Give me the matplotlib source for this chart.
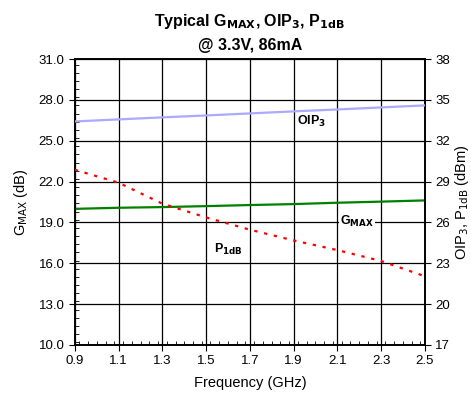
import matplotlib
matplotlib.use('Agg')
import matplotlib.pyplot as plt
from matplotlib.ticker import MultipleLocator
import numpy as np

freq = [0.9, 1.1, 1.3, 1.5, 1.7, 1.9, 2.1, 2.3, 2.5]
gmax = [20.0, 20.08, 20.13, 20.2, 20.28, 20.35, 20.45, 20.53, 20.62]
oip3 = [33.42, 33.57, 33.72, 33.86, 34.01, 34.16, 34.3, 34.45, 34.6]
p1db = [29.87, 28.92, 27.38, 26.37, 25.47, 24.68, 23.97, 23.17, 22.05]


def main():
    plt.rcParams['font.family'] = ['Liberation Sans', 'DejaVu Sans']
    fig = plt.figure(figsize=(4.71, 3.94), dpi=100)
    ax = fig.add_axes([0.159, 0.1244, 0.743, 0.7256])
    ax2 = ax.twinx()

    ax.plot(freq, gmax, color='#008000', lw=1.6, zorder=3)
    ax2.plot(freq, oip3, color='#aaaaff', lw=1.6, zorder=3)
    ax2.plot(freq, p1db, color='#ff0000', lw=1.6, ls=(0, (1.5, 3)), zorder=3)

    ax.set_xlim(0.9, 2.5)
    ax.set_ylim(10, 31)
    ax2.set_ylim(17, 38)
    ax.set_xticks(np.arange(0.9, 2.51, 0.2))
    ax.set_xticklabels([f'{v:.1f}' for v in np.arange(0.9, 2.51, 0.2)])
    ax.set_yticks(np.arange(10, 31.1, 3))
    ax.set_yticklabels([f'{v:.1f}' for v in np.arange(10, 31.1, 3)])
    ax2.set_yticks(np.arange(17, 38.1, 3))
    ax.xaxis.set_minor_locator(MultipleLocator(0.04))
    ax.yaxis.set_minor_locator(MultipleLocator(0.6))
    ax.grid(True, which='major', color='black', lw=0.9)
    ax.set_axisbelow(True)

    ax.tick_params(which='major', direction='out', length=4, labelsize=9.5, color='black')
    ax.tick_params(which='minor', direction='in', length=3)
    ax2.tick_params(which='major', direction='out', length=4, labelsize=9.5)
    for a in (ax, ax2):
        for s in a.spines.values():
            s.set_linewidth(1.2)

    ax.set_xlabel('Frequency (GHz)', fontsize=10.5, labelpad=6)
    ax.set_ylabel('G$_{\\mathrm{MAX}}$ (dB)', fontsize=10.5, labelpad=6)
    ax2.set_ylabel('OIP$_3$, P$_{\\mathrm{1dB}}$ (dBm)', fontsize=10.5, labelpad=2)

    fig.text(0.53, 0.935, 'Typical G$_{\\mathbf{MAX}}$, OIP$_\\mathbf{3}$, P$_{\\mathbf{1dB}}$',
             ha='center', fontsize=11.5, fontweight='bold')
    fig.text(0.53, 0.873, '@ 3.3V, 86mA', ha='center', fontsize=11.5, fontweight='bold')

    ax2.text(1.98, 33.4, 'OIP$_\\mathbf{3}$', ha='center', va='center',
             fontsize=9, fontweight='bold', zorder=4)
    ax.text(2.19, 19.05, 'G$_{\\mathbf{MAX}}$', ha='center', va='center', fontsize=9,
            fontweight='bold', zorder=4,
            bbox=dict(facecolor='white', edgecolor='none', pad=1))
    ax.text(1.6, 17.0, 'P$_{\\mathbf{1dB}}$', ha='center', va='center',
            fontsize=9, fontweight='bold', zorder=4)

    plt.savefig('out.png', dpi=100)


if __name__ == '__main__':
    main()
